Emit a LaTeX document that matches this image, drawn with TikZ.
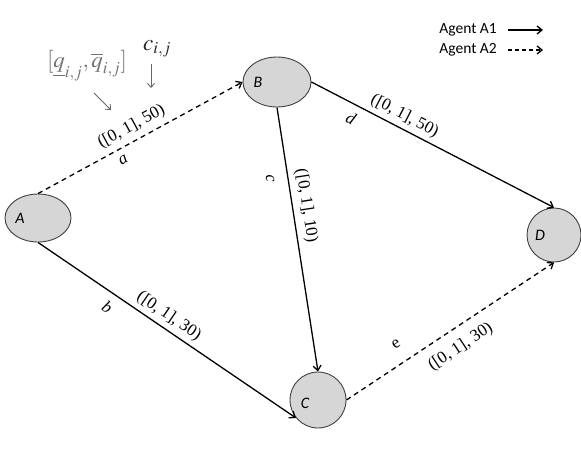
\documentclass[tikz,border=0pt]{standalone}
\usepackage{mathptmx}
\usepackage{fontspec}
\setmainfont{Liberation Serif}
\newfontfamily\calfont{Carlito}
\usetikzlibrary{shapes.geometric,arrows.meta}
\tikzset{
  vert/.style={ellipse, draw=black!75, fill=black!16, line width=0.9pt, inner sep=0pt},
  vlab/.style={font=\calfont\itshape\fontsize{16}{16}\selectfont},
  agentone/.style={line width=1.3pt, -{Straight Barb[length=5pt,width=8pt]}},
  agenttwo/.style={line width=1.3pt, dash pattern=on 5pt off 4pt, -{Straight Barb[length=5pt,width=8pt]}},
  elab/.style={font=\fontsize{17}{20}\selectfont, sloped, inner sep=2pt},
  legend/.style={font=\calfont\fontsize{15.5}{17}\selectfont, inner sep=0pt},
  annarrow/.style={draw=black!60, line width=0.9pt, -{Straight Barb[length=4pt,width=7pt]}}
}
\begin{document}
\begin{tikzpicture}[x=1pt,y=-1pt]
\useasboundingbox (0,0) rectangle (581,448);
% vertices
\node[vert, minimum width=66pt, minimum height=48pt, label={[vlab, xshift=-18pt]center:A}] (A) at (38,218) {};
\node[vert, minimum width=68pt, minimum height=50pt, label={[vlab, xshift=-19pt]center:B}] (B) at (277,82) {};
\node[vert, circle, minimum size=56pt, label={[vlab, xshift=-13pt, yshift=-3pt]center:C}] (C) at (318,400) {};
\node[vert, circle, minimum size=54pt, label={[vlab, xshift=-14pt]center:D}] (D) at (554,235) {};
% edges
\draw[agenttwo] (A.north) -- node[elab, above=3.6pt, pos=0.49] {([0, 1], 50)} node[elab, below=4.7pt, pos=0.39] {\textit{a}} (B.west);
\draw[agentone] (A.south) -- node[elab, above=2.2pt, pos=0.48] {([0, 1], 30)} node[elab, below=5.5pt, pos=0.30] {\textit{b}} (C.219);
\draw[agentone] (B.south) -- node[elab, above=3.4pt, pos=0.38] {([0, 1], 10)} node[elab, below=11pt, pos=0.26] {\textit{c}} (C.north);
\draw[agentone] (B.east) -- node[elab, above=2.2pt, pos=0.36] {([0, 1], 50)} node[elab, below=5.6pt, pos=0.19] {\textit{d}} (D.north);
\draw[agenttwo] (C.east) -- node[elab, below=8.6pt, pos=0.50] {([0, 1], 30)} node[elab, above=12.5pt, pos=0.29] {e} (D.south);
% annotations
\node[text=black!55, font=\fontsize{23}{27}\selectfont] (qint) at (87,66) {$[\underline{q}_{i,j},\overline{q}_{i,j}]$};
\node[text=black!85, font=\fontsize{23}{26}\selectfont] (cij) at (157,49) {$c_{i,j}$};
\coordinate (ca) at (151,64);
\coordinate (cb) at (151,88);
\draw[annarrow] (ca) -- (cb);
\coordinate (qa) at (94,93);
\coordinate (qb) at (111,110);
\draw[annarrow] (qa) -- (qb);
% legend
\node[legend, anchor=east] (l1) at (497,30) {Agent A1};
\node[legend, anchor=east] (l2) at (497,50) {Agent A2};
\coordinate (l1e) at (543,30);
\coordinate (l2e) at (543,50);
\draw[agentone] ([xshift=11pt]l1.east) -- (l1e);
\draw[agenttwo, dash pattern=on 4pt off 3pt] ([xshift=11pt]l2.east) -- (l2e);
\end{tikzpicture}
\end{document}
